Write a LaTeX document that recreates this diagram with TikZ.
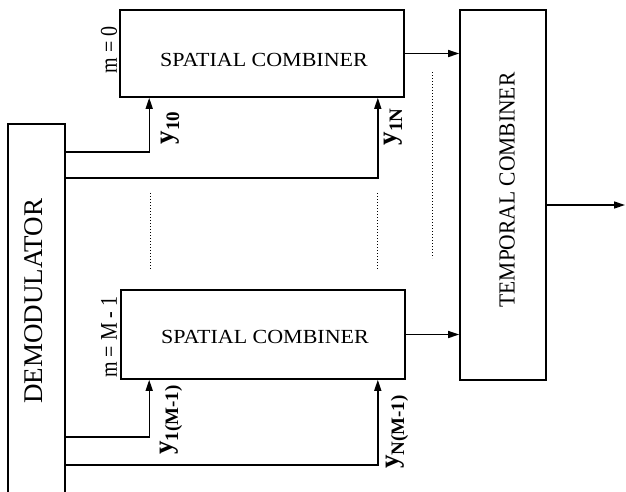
\documentclass[tikz,border=0pt]{standalone}
\usepackage{fontspec}
\setmainfont{Liberation Serif}
\usetikzlibrary{arrows.meta}
\newcommand\mysub[1]{\raisebox{-0.22em}{\fontsize{19}{20}\selectfont\bfseries #1}}
\begin{document}
\begin{tikzpicture}[x=1pt,y=-1pt,
  box/.style={draw, rectangle, inner sep=0pt, line width=1.6pt},
  arr/.style={-{Triangle[length=11pt,width=7pt]}, line width=1.4pt},
  dots/.style={line width=1pt, dash pattern=on 0.8pt off 2.2pt},
  bigtxt/.style={font=\fontsize{20}{24}\selectfont, inner sep=0pt},
  lab/.style={rotate=90, inner sep=0pt, font=\fontsize{27}{30}\selectfont\bfseries},
  mlab/.style={rotate=90, inner sep=0pt, font=\fontsize{20}{24}\selectfont}]
\useasboundingbox (0,0) rectangle (626,491);

% spatial combiners
\node[box, minimum width=284pt, minimum height=87pt] (sc1) at (262,53.5) {};
\node[bigtxt] (sc1t) at (264,60) {\scalebox{1.1}[1]{SPATIAL COMBINER}};
\node[box, minimum width=284pt, minimum height=89pt] (sc2) at (263,334.5) {};
\node[bigtxt] (sc2t) at (265,336.5) {\scalebox{1.1}[1]{SPATIAL COMBINER}};

% temporal combiner
\node[box, minimum width=86pt, minimum height=370pt] (tc) at (503,195) {};
\node[rotate=90, inner sep=0pt, font=\fontsize{21.5}{24}\selectfont] (tct) at (507,190) {\scalebox{1}[1.07]{TEMPORAL COMBINER}};

% demodulator (open at the bottom)
\node[inner sep=0pt, minimum width=57pt, minimum height=370pt] (demod) at (36.5,309) {};
\draw[line width=1.6pt] (demod.south west) -- (demod.north west) -- (demod.north east) -- (demod.south east);
\node[rotate=90, inner sep=0pt, font=\fontsize{27}{30}\selectfont] (demodt) at (34,301) {DEMODULATOR};

% m labels
\node[mlab] (m0) at (109,50) {\scalebox{1}[1.2]{m = 0}};
\node[mlab] (mM) at (109,337) {\scalebox{1}[1.2]{m = M - 1}};

% inputs
\draw[arr] ([yshift=-28pt]demod.north east) -| ([xshift=30pt]sc1.south west);
\draw[arr] ([yshift=-54pt]demod.north east) -| ([xshift=-27pt]sc1.south east);
\draw[arr] ([yshift=-313pt]demod.north east) -| ([xshift=29pt]sc2.south west);
\draw[arr] ([yshift=-341pt]demod.north east) -| ([xshift=-28pt]sc2.south east);

% input labels
\node[lab] (y10) at (170,128) {y\mysub{10}};
\node[lab] (y1N) at (393,127) {y\mysub{1N}};
\node[lab] (y1M) at (171,420) {y\mysub{1(M-1)}};
\node[lab] (yNM) at (397,432) {y\mysub{N(M-1)}};

% outputs
\draw[arr] (sc1.east) -- (sc1.east -| tc.west);
\draw[arr] (sc2.east) -- (sc2.east -| tc.west);
\coordinate (out) at (625,205);
\draw[arr] ([yshift=-10pt]tc.east) -- (out);

% dotted ellipsis lines
\draw[dots] (150,193) -- (150,270);
\draw[dots] (377,193) -- (377,270);
\draw[dots] (432,72) -- (432,258);
\end{tikzpicture}
\end{document}
